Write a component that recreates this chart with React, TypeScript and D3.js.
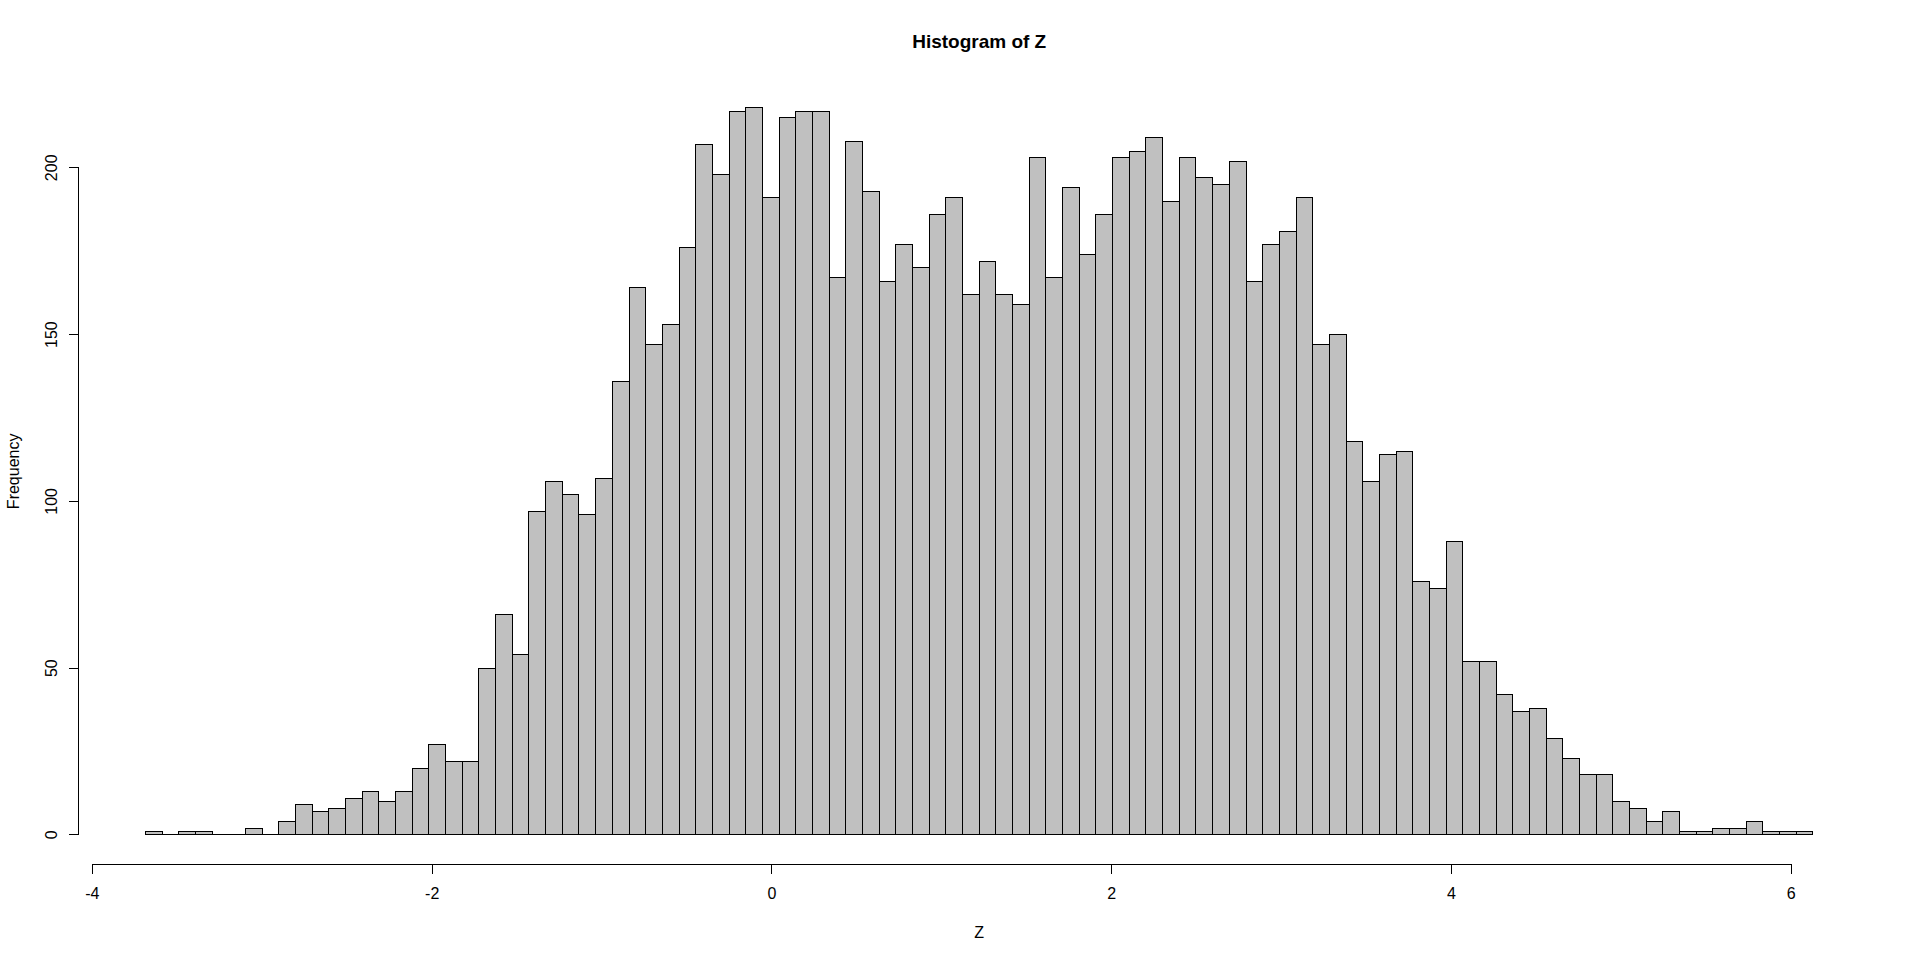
import * as d3 from 'd3'

// histogram of Z: 100 equal-width bins between zMin and zMax
const zMin = -3.688
const zMax = 6.128
const counts = [
  1, 0, 1, 1, 0, 0, 2, 0, 4, 9,
  7, 8, 11, 13, 10, 13, 20, 27, 22, 22,
  50, 66, 54, 97, 106, 102, 96, 107, 136, 164,
  147, 153, 176, 207, 198, 217, 218, 191, 215, 217,
  217, 167, 208, 193, 166, 177, 170, 186, 191, 162,
  172, 162, 159, 203, 167, 194, 174, 186, 203, 205,
  209, 190, 203, 197, 195, 202, 166, 177, 181, 191,
  147, 150, 118, 106, 114, 115, 76, 74, 88, 52,
  52, 42, 37, 38, 29, 23, 18, 18, 10, 8,
  4, 7, 1, 1, 2, 2, 4, 1, 1, 1,
]
const xTicks = [-4, -2, 0, 2, 4, 6]
const yTicks = [0, 50, 100, 150, 200]

const width = 1920
const height = 962
// R default margins: 5.1, 4.1, 4.1, 2.1 lines of 19.2px
const margin = { top: 78.7, right: 40.3, bottom: 98, left: 78.7 }
const font = "Arial, 'Liberation Sans', Helvetica, sans-serif"

export default function App() {
  const binWidth = (zMax - zMin) / counts.length
  const xPad = (zMax - zMin) * 0.04
  const yMax = d3.max(counts) ?? 0
  const yPad = yMax * 0.04

  const x = d3
    .scaleLinear()
    .domain([zMin - xPad, zMax + xPad])
    .range([margin.left, width - margin.right])
  const y = d3
    .scaleLinear()
    .domain([-yPad, yMax + yPad])
    .range([height - margin.bottom, margin.top])

  const plotBottom = height - margin.bottom
  const cx = (margin.left + width - margin.right) / 2

  return (
    <svg
      width={width}
      height={height}
      viewBox={`0 0 ${width} ${height}`}
      style={{ position: 'absolute', left: 0, top: 0, background: '#fff' }}
      fontFamily={font}
    >
      <g shapeRendering="crispEdges">
        {counts.map((count, i) => {
          const x0 = x(zMin + i * binWidth)
          const x1 = x(zMin + (i + 1) * binWidth)
          const y0 = y(0)
          const y1 = y(count)
          return (
            <path
              key={i}
              d={`M${x0},${y0}H${x1}V${y1}H${x0}Z`}
              fill="#c0c0c0"
              stroke="#000"
              strokeWidth={1}
            />
          )
        })}

        {/* x axis */}
        <line
          x1={x(xTicks[0])}
          x2={x(xTicks[xTicks.length - 1])}
          y1={plotBottom}
          y2={plotBottom}
          stroke="#000"
        />
        {xTicks.map((tick) => (
          <line
            key={tick}
            x1={x(tick)}
            x2={x(tick)}
            y1={plotBottom}
            y2={plotBottom + 9.6}
            stroke="#000"
          />
        ))}

        {/* y axis */}
        <line
          x1={margin.left}
          x2={margin.left}
          y1={y(yTicks[0])}
          y2={y(yTicks[yTicks.length - 1])}
          stroke="#000"
        />
        {yTicks.map((tick) => (
          <line
            key={tick}
            x1={margin.left - 9.6}
            x2={margin.left}
            y1={y(tick)}
            y2={y(tick)}
            stroke="#000"
          />
        ))}
      </g>

      {xTicks.map((tick) => (
        <text key={tick} x={x(tick)} y={899} textAnchor="middle" fontSize="16" fill="#000">
          {tick}
        </text>
      ))}
      {yTicks.map((tick) => (
        <text
          key={tick}
          transform={`translate(57,${y(tick)}) rotate(-90)`}
          textAnchor="middle"
          fontSize="16"
          fill="#000"
        >
          {tick}
        </text>
      ))}

      <text x={cx} y={47.5} textAnchor="middle" fontSize="19" fontWeight="bold" fill="#000">
        Histogram of Z
      </text>
      <text x={cx} y={937.5} textAnchor="middle" fontSize="16" fill="#000">
        Z
      </text>
      <text
        transform={`translate(19,${(margin.top + plotBottom) / 2}) rotate(-90)`}
        textAnchor="middle"
        fontSize="16"
        fill="#000"
      >
        Frequency
      </text>
    </svg>
  )
}
